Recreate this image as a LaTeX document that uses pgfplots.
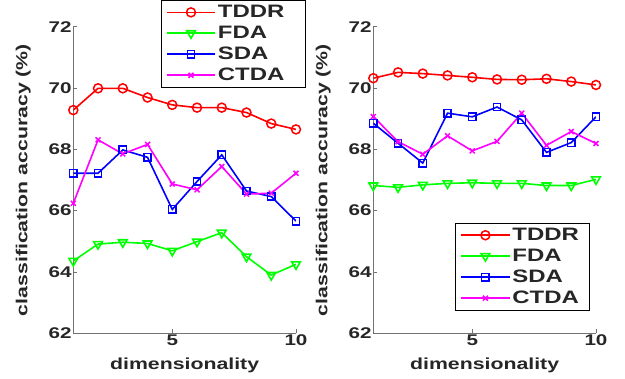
\documentclass[border=0pt]{standalone}
\usepackage{fontspec}
\setmainfont{Liberation Sans}[FakeStretch=1.33]
\usepackage{pgfplots}
\pgfplotsset{compat=1.18}
\definecolor{cRed}{rgb}{1,0,0}
\definecolor{cGreen}{rgb}{0,1,0}
\definecolor{cBlue}{rgb}{0,0,1}
\definecolor{cMag}{rgb}{1,0,1}
\begin{document}
\begin{tikzpicture}[x=1pt,y=1pt]
\useasboundingbox (0,0) rectangle (625,379);
\pgfplotsset{
  myaxis/.style={
    scale only axis, width=222.7pt, height=306.6pt,
    anchor=south west,
    xmin=1, xmax=10, ymin=62, ymax=72,
    xtick={5,10}, ytick={62,64,66,68,70,72},
    axis x line=bottom, axis y line=left,
    axis line style={-, draw=black!55, line width=0.8pt},
    tick align=inside, major tick length=4pt,
    tick style={draw=black!55, line width=0.8pt},
    /pgf/number format/assume math mode=true,
    tick label style={font=\fontsize{15.5}{18}\selectfont\bfseries, text=black!85, inner sep=1.5pt},
    every axis y label/.style={at={(axis description cs:-0.2245,0.5)},rotate=90,anchor=center,font=\fontsize{16}{18}\selectfont\bfseries, text=black!85},
    every axis x label/.style={at={(axis description cs:0.5,-0.104)},anchor=center,font=\fontsize{16}{18}\selectfont\bfseries, text=black!85},
    xlabel={dimensionality}, ylabel={classification accuracy (\%)},
    legend style={draw=black, line width=0.8pt, fill=white, font=\fontsize{18}{20}\selectfont\bfseries, text=black!85, row sep=3pt, inner xsep=5pt, inner ysep=3pt},
    legend cell align=left,
    legend image code/.code={\draw[mark repeat=2,mark phase=2] plot coordinates {(0cm,0cm) (0.85cm,0cm) (1.7cm,0cm)};},
    every axis plot/.append style={line width=1.6pt, mark options={solid, line width=1.5pt}},
  },
  sTDDR/.style={color=cRed, mark=o, mark size=4.5pt},
  sFDA/.style={color=cGreen, mark=triangle, mark size=5pt, mark options={rotate=180}},
  sSDA/.style={color=cBlue, mark=square, mark size=3.7pt},
  sCTDA/.style={color=cMag, mark=x, mark size=3.5pt},
}
\begin{axis}[myaxis, at={(73.3pt,45.7pt)},
  legend style={at={(axis description cs:0.392,1.087)}, anchor=north west}]
\addplot[sTDDR] coordinates {(1,69.28)(2,69.99)(3,69.99)(4,69.69)(5,69.45)(6,69.36)(7,69.36)(8,69.2)(9,68.84)(10,68.65)};
\addplot[sFDA] coordinates {(1,64.36)(2,64.91)(3,64.97)(4,64.93)(5,64.69)(6,64.99)(7,65.28)(8,64.5)(9,63.9)(10,64.25)};
\addplot[sSDA] coordinates {(1,67.22)(2,67.22)(3,67.98)(4,67.74)(5,66.04)(6,66.95)(7,67.82)(8,66.64)(9,66.46)(10,65.66)};
\addplot[sCTDA] coordinates {(1,66.24)(2,68.31)(3,67.85)(4,68.16)(5,66.87)(6,66.68)(7,67.44)(8,66.54)(9,66.57)(10,67.22)};
\legend{TDDR\hspace*{14pt},FDA,SDA,CTDA}
\end{axis}
\begin{axis}[myaxis, at={(373.3pt,45.7pt)},
  legend style={at={(axis description cs:0.367,0.36)}, anchor=north west}]
\addplot[sTDDR] coordinates {(1,70.32)(2,70.51)(3,70.47)(4,70.41)(5,70.35)(6,70.28)(7,70.27)(8,70.3)(9,70.21)(10,70.1)};
\addplot[sFDA] coordinates {(1,66.82)(2,66.76)(3,66.84)(4,66.89)(5,66.91)(6,66.89)(7,66.89)(8,66.82)(9,66.82)(10,67.02)};
\addplot[sSDA] coordinates {(1,68.85)(2,68.2)(3,67.55)(4,69.18)(5,69.06)(6,69.38)(7,68.96)(8,67.9)(9,68.22)(10,69.06)};
\addplot[sCTDA] coordinates {(1,69.07)(2,68.25)(3,67.84)(4,68.44)(5,67.95)(6,68.26)(7,69.18)(8,68.13)(9,68.58)(10,68.19)};
\legend{TDDR\hspace*{4pt},FDA,SDA,CTDA}
\end{axis}
\end{tikzpicture}
\end{document}
